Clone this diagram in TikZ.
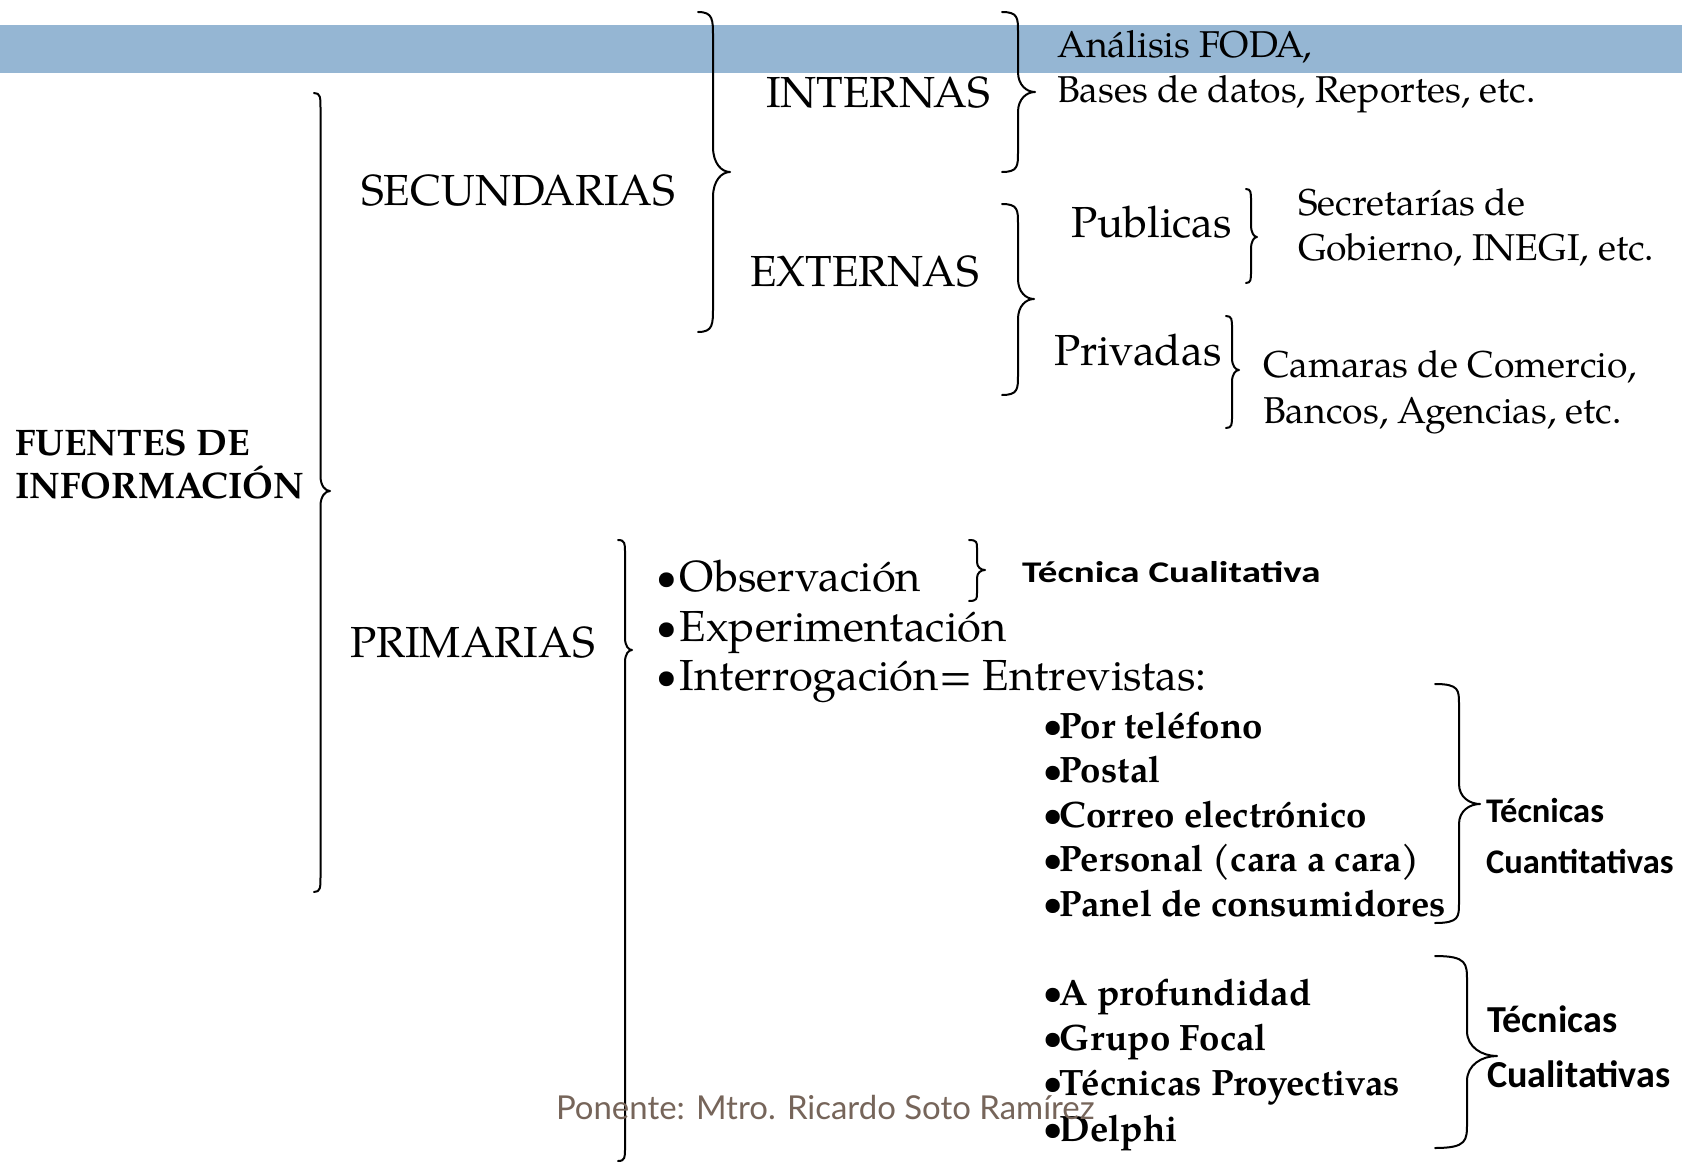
\documentclass[tikz,border=0pt]{standalone}
\usepackage{fontspec}
\setmainfont{TeX Gyre Pagella}
\newfontfamily\calfont{Carlito}
\newfontfamily\calwide{Carlito}[FakeStretch=1.3]
\newfontfamily\footfont{Lato}
\definecolor{band}{HTML}{95B6D3}
\definecolor{foot}{HTML}{76655A}
\newcommand{\bul}[2]{\makebox[#1][l]{\raisebox{0.04em}{\scalebox{#2}{•}}}}
\tikzset{
  txt/.style={anchor=base west, inner sep=0pt, outer sep=0pt},
  lvl/.style={txt, font=\fontsize{32.6}{39}\selectfont},
  subt/.style={txt, font=\fontsize{28}{34}\selectfont},
  ttl/.style={txt, font=\bfseries\fontsize{27.7}{33}\selectfont},
  blist/.style={txt, font=\bfseries\fontsize{27.5}{33}\selectfont},
  tecq/.style={txt, font=\calfont\bfseries\fontsize{25.9}{31}\selectfont},
  tecl/.style={txt, font=\calfont\bfseries\fontsize{28.6}{34}\selectfont},
  tecw/.style={txt, font=\calwide\bfseries\fontsize{22.5}{27}\selectfont},
  foottxt/.style={txt, font=\footfont\fontsize{24.7}{30}\selectfont, text=foot},
  brc/.style={line width=1.5pt, line cap=round, line join=round}
}
% #1 tip x, #2 spine x, #3 cusp x, #4 top y, #5 cusp y, #6 bottom y, #7 curl
\newcommand{\Cbrace}[7]{%
  \draw[brc] (#1,#4) .. controls ({#2},#4) and ({#2},{#4+0.3*#7}) .. ({#2},{#4+#7})
    -- ({#2},{#5-#7})
    .. controls ({#2},{#5-0.35*#7}) and ({(#2+#3)/2},#5) .. (#3,#5)
    .. controls ({(#2+#3)/2},#5) and ({#2},{#5+0.35*#7}) .. ({#2},{#5+#7})
    -- ({#2},{#6-#7})
    .. controls ({#2},{#6-0.3*#7}) and ({#2},#6) .. (#1,#6);}
\begin{document}
\begin{tikzpicture}[x=0.75pt,y=-0.75pt]
\useasboundingbox (0,0) rectangle (1682,1163);
\fill[band] (0,25) rectangle (1682,73);

% braces
\Cbrace{314}{320.5}{330}{93}{491}{892}{15}
\Cbrace{698}{713}{730}{12}{172}{332}{25}
\Cbrace{1002}{1018}{1035}{12}{92}{172}{20}
\Cbrace{1002}{1018}{1034}{204}{299}{395}{20}
\Cbrace{1246}{1251}{1257}{189}{237}{283}{12}
\Cbrace{1226}{1232}{1239}{316}{370}{428}{12}
\Cbrace{618}{625}{632}{540}{650}{1161}{12}
\Cbrace{969}{977}{985}{540}{570}{601}{8}
\Cbrace{1435}{1459}{1480}{684}{804}{923}{20}
\Cbrace{1435}{1467}{1497}{956}{1056}{1148}{25}

% root
\node[ttl] (fu1) at (15,455) {FUENTES DE};
\node[ttl] (fu2) at (15,498) {INFORMACIÓN};

% level 1
\node[lvl] (sec) at (361,205) {SECUNDARIAS};
\node[lvl] (pri) at (350,657) {PRIMARIAS};

% level 2
\node[lvl] (int) at (766,108) {INTERNAS};
\node[lvl] (ext) at (750,286) {EXTERNAS};
\node[subt] (foda) at (1057,58) {Análisis FODA,};
\node[subt] (bases) at (1057,103) {Bases de datos, Reportes, etc.};
\node[lvl] (pub) at (1071,237) {Publicas};
\node[lvl] (priv) at (1054,365) {Privadas};
\node[subt] (sec1) at (1298,215) {Secretarías de};
\node[subt] (sec2) at (1298,260) {Gobierno, INEGI, etc.};
\node[subt] (cam1) at (1263,377) {Camaras de Comercio,};
\node[subt] (cam2) at (1263,423) {Bancos, Agencias, etc.};

% primarias
\node[lvl] (obs) at (656,591.5) {\bul{0.55em}{0.85}Observación};
\node[lvl] (exp) at (656,641) {\bul{0.55em}{0.85}Experimentación};
\node[lvl] (inte) at (656,690.5) {\bul{0.55em}{0.85}Interrogación= Entrevistas:};
\node[tecw] (tc) at (1022,582) {Técnica Cualitativa};

\node[blist] (q1) at (1043,738) {\bul{0.46em}{0.88}Por teléfono};
\node[blist] (q2) at (1043,782.5) {\bul{0.46em}{0.88}Postal};
\node[blist] (q3) at (1043,827) {\bul{0.46em}{0.88}Correo electrónico};
\node[blist] (q4) at (1043,871.5) {\bul{0.46em}{0.88}Personal (cara a cara)};
\node[blist] (q5) at (1043,916) {\bul{0.46em}{0.88}Panel de consumidores};
\node[tecq] (tq1) at (1486,822) {Técnicas};
\node[tecq] (tq2) at (1486,873) {Cuantitativas};

\node[blist] (c1) at (1043,1005) {\bul{0.46em}{0.88}A profundidad};
\node[blist] (c2) at (1043,1050) {\bul{0.46em}{0.88}Grupo Focal};
\node[blist] (c3) at (1043,1095) {\bul{0.46em}{0.88}Técnicas Proyectivas};
\node[blist] (c4) at (1043,1141) {\bul{0.46em}{0.88}Delphi};
\node[tecl] (tl1) at (1487,1032) {Técnicas};
\node[tecl] (tl2) at (1487,1087) {Cualitativas};

\node[foottxt] (ft) at (556,1119) {Ponente: Mtro. Ricardo Soto Ramírez};
\end{tikzpicture}
\end{document}
